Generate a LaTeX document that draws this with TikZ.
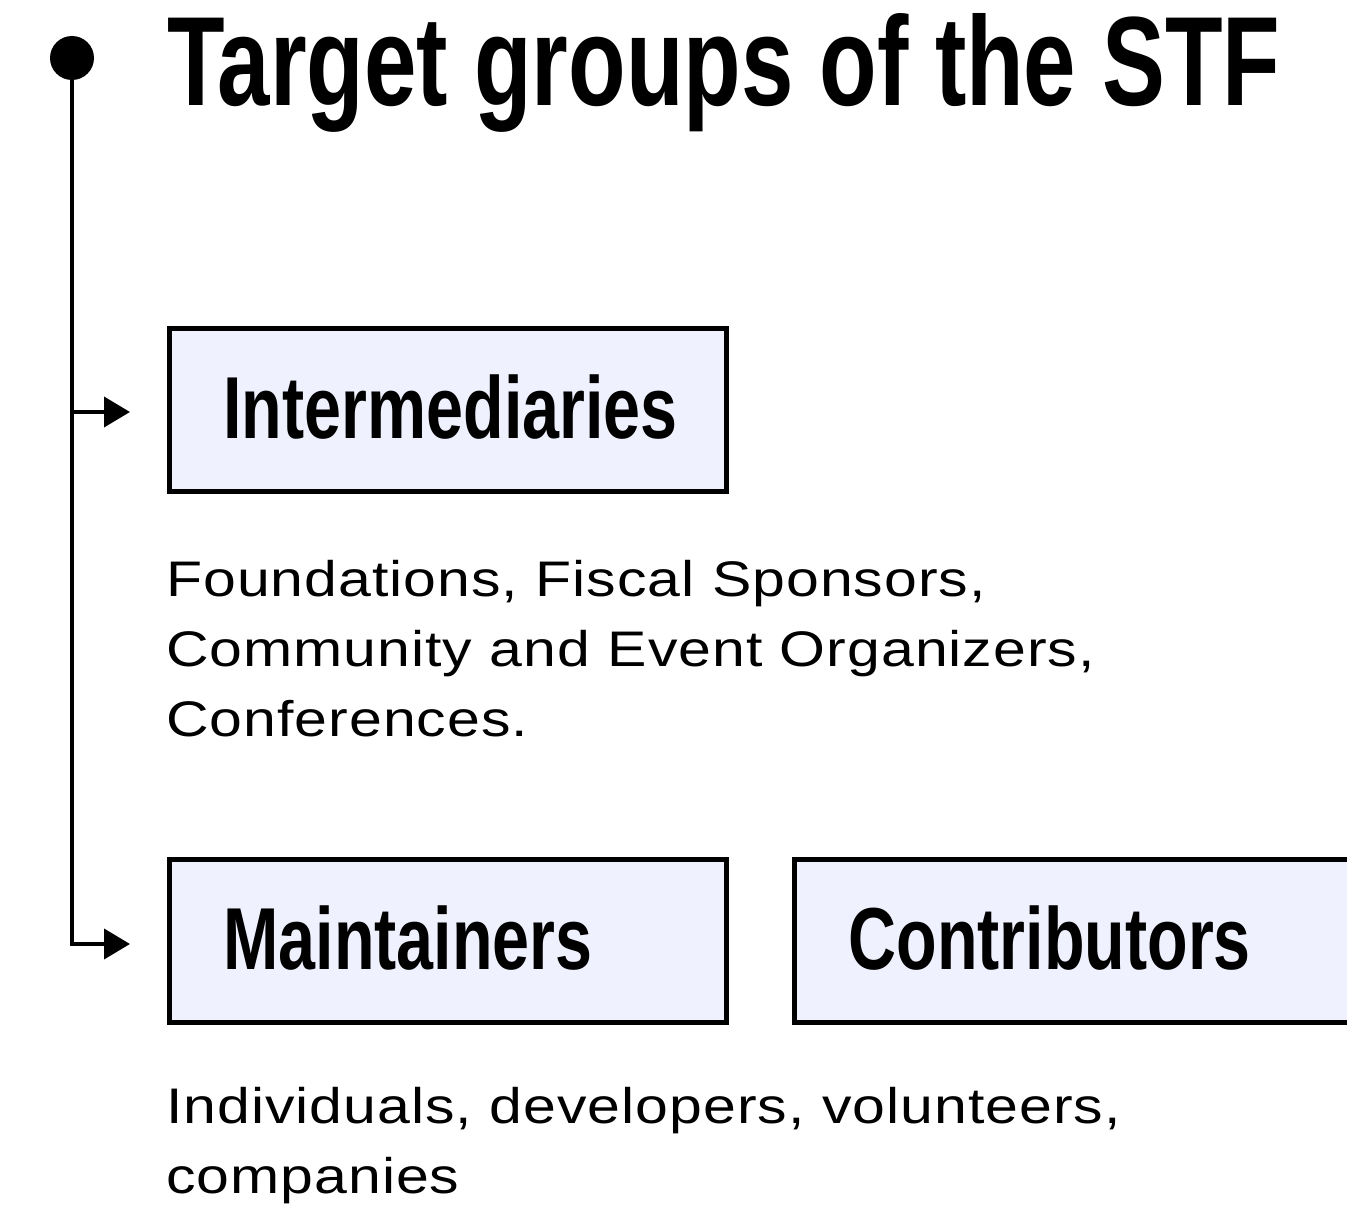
\documentclass[tikz,border=0pt]{standalone}
\usepackage{fontspec}
\setmainfont{Liberation Sans}
\newfontfamily\titlefont[FakeStretch=0.742]{Liberation Sans}
\newfontfamily\boxfont[FakeStretch=0.755]{Liberation Sans}
\newfontfamily\bodyfont[FakeStretch=1.18,LetterSpace=2]{Liberation Sans}
\usetikzlibrary{positioning,arrows.meta}
\definecolor{boxfill}{RGB}{239,241,254}
\begin{document}
\begin{tikzpicture}[x=1pt,y=-1pt,
    spine/.style={line width=4pt,-{Triangle[length=26pt,width=30pt]}},
    groupbox/.style={draw,line width=5pt,fill=boxfill,minimum width=557pt,minimum height=163pt,
        text width=449pt,inner xsep=54pt,align=left,text height=56pt,text depth=0pt,
        font=\boxfont\bfseries\fontsize{88}{88}\selectfont},
    bodytext/.style={anchor=north west,inner sep=0pt,align=left,
        font=\bodyfont\fontsize{50}{70}\selectfont}]
    \useasboundingbox (0,0) rectangle (1347,1207);
    \node[anchor=base west,inner sep=0pt] (title) at (167,106)
        {\titlefont\bfseries\fontsize{127}{127}\selectfont Target groups of the STF};
    \node[circle,fill=black,inner sep=0pt,minimum size=44pt] (dot) at (72,58) {};
    \node[groupbox] (inter) at (448,410) {Intermediaries};
    \node[groupbox,below=363pt of inter] (maint) {Maintainers};
    \node[groupbox,right=63pt of maint] (contrib) {Contributors};
    \node[bodytext] (interText) at (166,560) {Foundations, Fiscal Sponsors,\\Community and Event Organizers,\\Conferences.};
    \node[bodytext] (maintText) at (166,1087) {Individuals, developers, volunteers,\\companies};
    % spine and branches
    \coordinate (tipA) at (130,412);
    \coordinate (tipB) at (130,944);
    \draw[spine] (dot.center) |- (tipB);
    \draw[spine] (dot |- tipA) -- (tipA);
\end{tikzpicture}
\end{document}
